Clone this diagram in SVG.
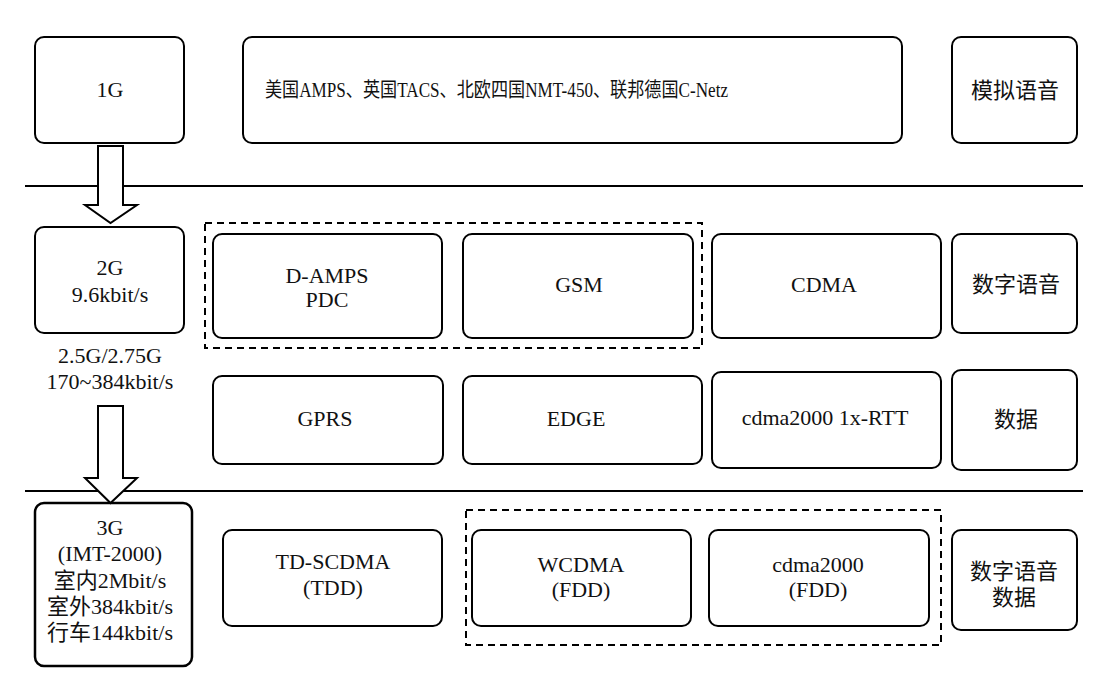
<svg xmlns="http://www.w3.org/2000/svg" width="1112" height="686" viewBox="0 0 1112 686">
<style>
.box{fill:#fff;stroke:#000;stroke-width:2}
.dash{fill:none;stroke:#000;stroke-width:2;stroke-dasharray:7,5}
.sep{stroke:#000;stroke-width:2}
.arrow{fill:#fff;stroke:#000;stroke-width:2;stroke-linejoin:miter}
text{font-size:22px;fill:#111;text-anchor:middle}
</style>
<rect width="1112" height="686" fill="#fff"/>
<g font-family="Liberation Serif, Noto Sans CJK SC, serif">
<g id="separators">
<line class="sep" x1="25" y1="186" x2="1083" y2="186"/>
<line class="sep" x1="25" y1="491" x2="1083" y2="491"/>
</g>
<g id="groups">
<rect class="dash" x="205" y="223" width="497" height="125"/>
<rect class="dash" x="466" y="510" width="475" height="135"/>
</g>
<g id="n1G"><rect class="box" x="35" y="37" width="149" height="106" rx="9"/><text x="110" y="97">1G</text></g>
<g id="nAnalog"><rect class="box" x="243" y="37" width="659" height="106" rx="9"/><text x="265" y="97" style="text-anchor:start;font-size:20px" textLength="463" lengthAdjust="spacingAndGlyphs">美国AMPS、英国TACS、北欧四国NMT-450、联邦德国C-Netz</text></g>
<g id="nAnalogVoice"><rect class="box" x="952" y="37" width="125" height="106" rx="9"/><text x="1015" y="98">模拟语音</text></g>

<g id="n2G"><rect class="box" x="35" y="227" width="149" height="106" rx="9"/><text x="110" y="275">2G</text><text x="110" y="302">9.6kbit/s</text></g>
<g id="n25G"><text x="110" y="363">2.5G/2.75G</text><text x="110" y="389">170~384kbit/s</text></g>
<g id="nDAMPS"><rect class="box" x="213" y="234" width="229" height="104" rx="9"/><text x="327" y="283">D-AMPS</text><text x="327" y="307">PDC</text></g>
<g id="nGSM"><rect class="box" x="463" y="234" width="230" height="104" rx="9"/><text x="579" y="292">GSM</text></g>
<g id="nCDMA"><rect class="box" x="712" y="234" width="229" height="104" rx="9"/><text x="824" y="292">CDMA</text></g>
<g id="nDigitalVoice"><rect class="box" x="952" y="234" width="125" height="99" rx="9"/><text x="1016" y="292">数字语音</text></g>

<g id="nGPRS"><rect class="box" x="213" y="376" width="230" height="88" rx="9"/><text x="325" y="426">GPRS</text></g>
<g id="nEDGE"><rect class="box" x="463" y="376" width="239" height="88" rx="9"/><text x="576" y="426">EDGE</text></g>
<g id="nRTT"><rect class="box" x="712" y="372" width="229" height="96" rx="9"/><text x="825" y="425">cdma2000 1x-RTT</text></g>
<g id="nData"><rect class="box" x="952" y="370" width="125" height="100" rx="9"/><text x="1016" y="427">数据</text></g>

<g id="n3G"><rect class="box" x="35" y="503" width="157" height="163" rx="9" style="stroke-width:2.5"/><text x="110" y="535">3G</text><text x="110" y="561">(IMT-2000)</text><text x="110" y="588">室内2Mbit/s</text><text x="110" y="614">室外384kbit/s</text><text x="110" y="640">行车144kbit/s</text></g>
<g id="nTDSCDMA"><rect class="box" x="223" y="530" width="219" height="96" rx="9"/><text x="333" y="569">TD-SCDMA</text><text x="333" y="595">(TDD)</text></g>
<g id="nWCDMA"><rect class="box" x="472" y="530" width="219" height="96" rx="9"/><text x="581" y="572">WCDMA</text><text x="581" y="597">(FDD)</text></g>
<g id="nCDMA2000"><rect class="box" x="709" y="530" width="220" height="96" rx="9"/><text x="818" y="572">cdma2000</text><text x="818" y="597">(FDD)</text></g>
<g id="nVoiceData"><rect class="box" x="952" y="530" width="125" height="100" rx="9"/><text x="1014" y="579">数字语音</text><text x="1014" y="605">数据</text></g>

<g id="connectors">
<polygon class="arrow" points="98,146 123,146 123,205 137,205 110.5,223 85,205 98,205"/>
<polygon class="arrow" points="98,406 123,406 123,478 137,478 110.5,503 85,478 98,478"/>
</g>
</g>
</svg>
